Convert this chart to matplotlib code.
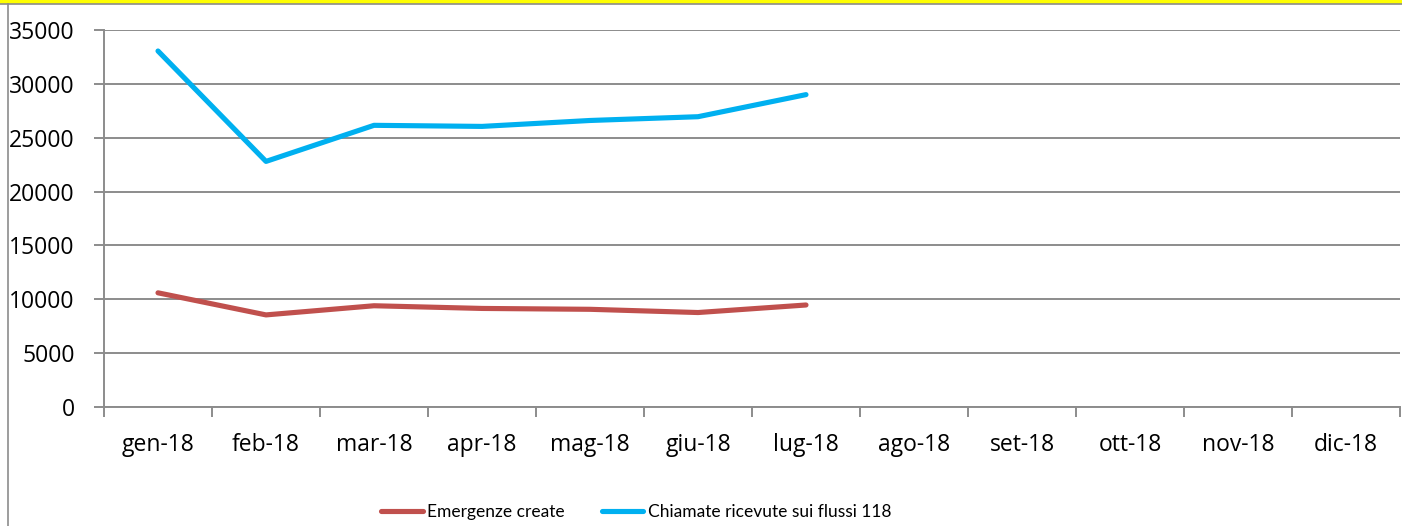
import matplotlib.pyplot as plt
import numpy as np
from matplotlib.lines import Line2D

# months shown on the category axis
months = ['gen-18', 'feb-18', 'mar-18', 'apr-18', 'mag-18', 'giu-18',
          'lug-18', 'ago-18', 'set-18', 'ott-18', 'nov-18', 'dic-18']
# only Jan-Jul have data
emergenze = [10600, 8550, 9400, 9150, 9070, 8770, 9470]
chiamate = [33050, 22800, 26150, 26050, 26600, 26950, 29000]

plt.rcParams['font.family'] = ['Open Sans', 'DejaVu Sans']

W, H = 1402, 526
fig = plt.figure(figsize=(W / 100, H / 100), dpi=100)
ax = fig.add_axes([104 / W, 1 - 407 / H, 1296 / W, 377 / H])

grid_col = '#8c8c8c'
red = '#c0504d'
blue = '#00b0f0'

x = np.arange(len(emergenze))
ax.plot(x, emergenze, color=red, lw=3.7, solid_capstyle='round',
        solid_joinstyle='round', label='Emergenze create')
ax.plot(np.arange(len(chiamate)), chiamate, color=blue, lw=3.7,
        solid_capstyle='round', solid_joinstyle='round',
        label='Chiamate ricevute sui flussi 118')

ax.set_xlim(-0.5, len(months) - 0.5)
ax.set_ylim(0, 35000)
ax.set_yticks(np.arange(0, 35001, 5000))
ax.yaxis.grid(True, color=grid_col, lw=1.4)
ax.set_axisbelow(True)

ax.set_xticks(np.arange(len(months)))
ax.set_xticklabels(months)
ax.set_xticks(np.arange(-0.5, len(months), 1), minor=True)
ax.tick_params(axis='x', which='major', length=0, pad=19, labelsize=16.5)
ax.tick_params(axis='x', which='minor', length=7, color=grid_col, width=1.4)
ax.tick_params(axis='y', length=7, color=grid_col, width=1.4, pad=14,
               labelsize=16.5)

for s in ['top', 'right']:
    ax.spines[s].set_visible(False)
for s in ['left', 'bottom']:
    ax.spines[s].set_color(grid_col)
    ax.spines[s].set_linewidth(1.4)

# legend uses a narrower face, as in the original
leg = fig.legend(loc='center', bbox_to_anchor=(636 / W, 1 - 512 / H), ncol=2,
                 frameon=False, handlelength=2.4, handletextpad=0.24,
                 columnspacing=2.15, borderpad=0.1,
                 prop={'family': ['Lato', 'DejaVu Sans'], 'size': 12.5})

# chart frame (clipped at the right and bottom edges)
fig.add_artist(Line2D([0, 1], [1 - 1.5 / H, 1 - 1.5 / H], color='#ffff00', lw=3))
fig.add_artist(Line2D([0, 1], [1 - 3.5 / H, 1 - 3.5 / H], color=grid_col, lw=1.2))
fig.add_artist(Line2D([8 / W, 8 / W], [0, 1 - 3.5 / H], color=grid_col, lw=1.2))

fig.savefig('out.png', dpi=100)
